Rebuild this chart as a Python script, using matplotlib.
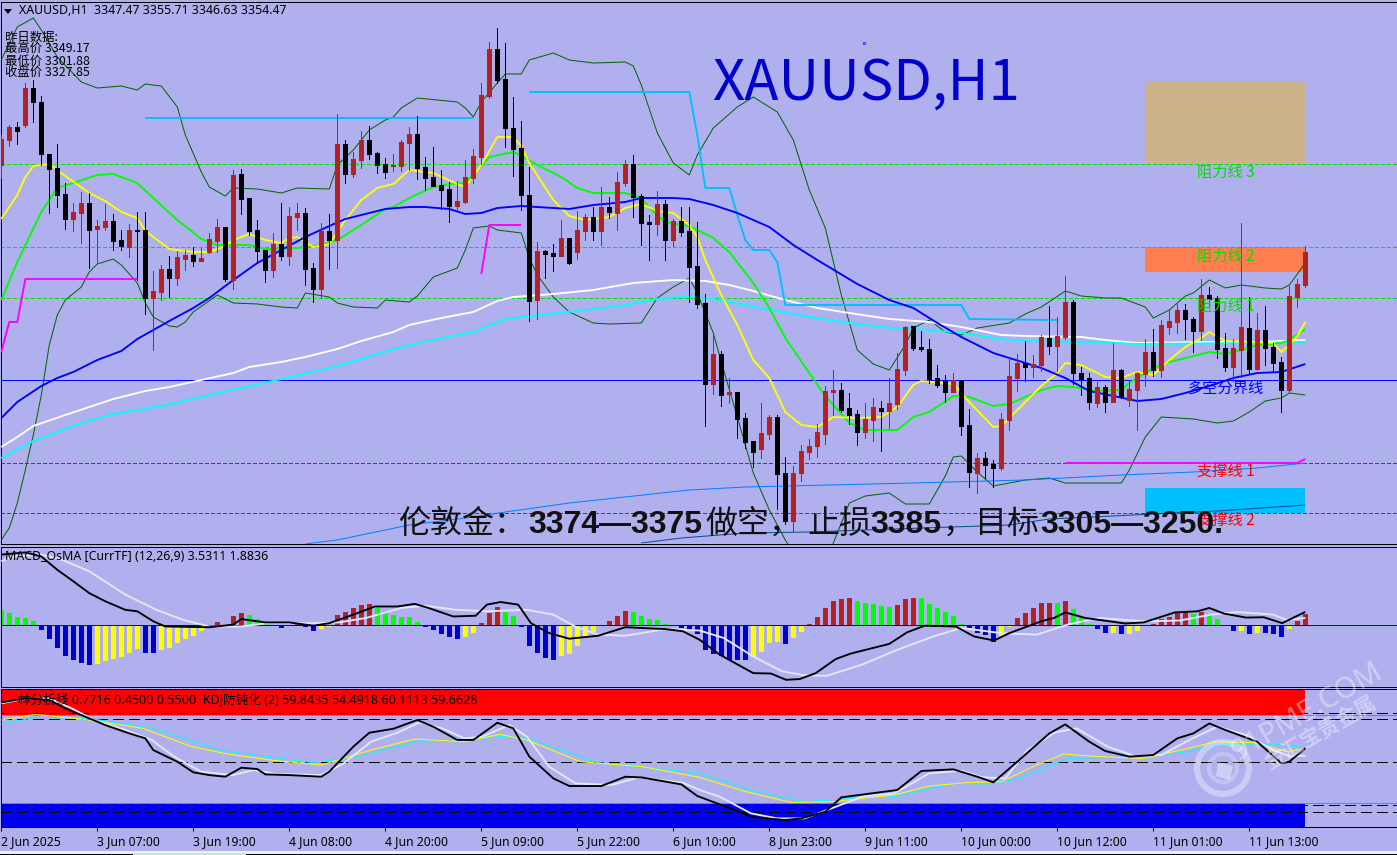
import matplotlib
matplotlib.use('Agg')
import matplotlib.pyplot as plt
from matplotlib.patches import Rectangle, Circle, Polygon

plt.rcParams['lines.scale_dashes'] = False
plt.rcParams['font.family'] = ['Noto Sans', 'Noto Sans CJK SC', 'DejaVu Sans']

highs = [3378.0,3380.0,3380.6,3388.4,3389.0,3385.8,3374.2,3376.2,3368.4,3364.4,
3366.6,3366.4,3361.0,3364.2,3362.2,3359.0,3360.2,3362.6,3362.6,3350.8,
3352.0,3353.8,3354.8,3355.0,3355.6,3355.4,3358.4,3361.2,3359.6,3371.0,
3371.2,3365.4,3361.0,3355.0,3358.4,3364.4,3363.6,3364.4,3363.4,3352.4,
3360.4,3362.2,3382.2,3377.0,3374.6,3378.8,3379.8,3374.6,3373.4,3374.2,
3377.0,3379.6,3381.8,3373.6,3375.6,3371.0,3368.6,3368.8,3373.0,3375.2,
3388.4,3396.6,3399.4,3396.4,3385.6,3380.8,3371.6,3356.6,3355.0,3356.2,
3361.0,3357.4,3362.8,3362.2,3363.6,3367.6,3365.6,3370.6,3373.0,3374.0,
3366.2,3362.0,3366.8,3365.0,3361.2,3363.6,3363.6,3360.6,3346.2,3338.6,
3334.8,3329.4,3326.6,3322.4,3316.8,3324.4,3322.0,3322.0,3313.6,3311.8,
3316.0,3317.2,3320.2,3327.8,3331.0,3328.4,3326.4,3323.0,3324.4,3325.4,
3324.8,3329.4,3334.4,3339.8,3339.8,3338.8,3337.2,3332.0,3330.0,3330.4,
3329.0,3323.2,3314.4,3314.6,3313.0,3322.4,3333.4,3334.2,3336.8,3334.0,
3338.0,3343.8,3341.6,3349.8,3345.0,3331.6,3330.4,3328.6,3328.0,3336.4,
3331.2,3329.0,3330.6,3337.2,3339.2,3341.0,3343.0,3344.2,3344.2,3341.6,
3349.2,3347.6,3345.8,3338.4,3337.2,3360.4,3345.6,3342.4,3343.8,3336.4,
3333.6,3347.8,3349.2,3355.8]

lows = [3369.4,3375.8,3376.2,3379.6,3380.6,3372.0,3362.4,3363.6,3359.2,3358.8,
3356.4,3351.4,3352.6,3359.0,3355.0,3355.0,3353.6,3349.0,3342.2,3335.0,
3345.0,3345.6,3348.0,3351.0,3351.8,3352.8,3354.4,3354.6,3348.8,3347.2,
3362.2,3358.0,3352.4,3348.6,3349.6,3353.0,3352.0,3359.0,3348.0,3344.6,
3345.6,3351.2,3351.4,3368.4,3369.6,3371.4,3373.2,3370.4,3369.4,3370.8,
3370.8,3371.0,3369.2,3367.0,3367.8,3363.2,3360.6,3363.0,3364.4,3368.4,
3372.2,3385.4,3388.4,3375.6,3369.8,3363.0,3340.8,3341.2,3349.4,3350.8,
3353.8,3352.2,3353.2,3357.0,3357.0,3356.0,3361.4,3359.0,3367.8,3361.6,
3356.0,3353.0,3358.0,3353.0,3355.8,3357.8,3344.6,3343.4,3319.8,3326.2,
3323.8,3324.4,3317.4,3315.4,3311.6,3313.4,3317.2,3303.2,3300.2,3298.8,
3308.8,3313.2,3313.6,3316.2,3322.0,3322.6,3320.2,3316.0,3317.4,3316.8,
3314.8,3319.4,3323.2,3330.0,3335.0,3334.8,3328.4,3327.6,3324.6,3326.6,
3318.0,3307.6,3306.4,3309.4,3307.6,3311.0,3319.0,3326.8,3328.8,3329.6,
3330.8,3334.2,3330.8,3337.2,3328.2,3326.0,3323.2,3323.6,3322.6,3324.6,
3325.4,3323.8,3319.0,3327.8,3329.8,3329.6,3338.2,3338.4,3337.2,3334.6,
3337.0,3343.6,3333.4,3330.8,3328.8,3329.6,3330.4,3331.0,3332.0,3330.6,
3322.6,3326.6,3343.6,3347.6]

opens = [3372.0,3377.0,3379.6,3380.0,3387.4,3384.6,3374.2,3371.4,3366.2,3361.2,
3362.4,3364.4,3359.2,3359.6,3360.8,3357.0,3355.6,3359.0,3359.0,3345.4,
3346.6,3351.2,3349.4,3353.2,3354.0,3352.8,3354.6,3356.8,3359.6,3349.0,
3370.2,3365.4,3359.0,3355.0,3351.0,3356.2,3353.8,3361.6,3362.4,3351.4,
3347.2,3358.8,3357.0,3376.2,3370.2,3373.0,3377.0,3374.4,3372.2,3371.8,
3371.8,3376.4,3378.2,3371.6,3369.6,3368.0,3367.2,3363.8,3364.6,3369.4,
3373.6,3385.8,3395.2,3389.2,3379.4,3375.4,3366.0,3345.0,3354.8,3354.4,
3353.8,3357.4,3354.6,3358.8,3361.6,3358.8,3363.6,3362.4,3368.4,3372.2,
3365.8,3360.6,3360.2,3364.2,3357.0,3360.8,3358.8,3351.8,3344.4,3328.2,
3334.2,3326.2,3326.6,3321.4,3316.8,3315.2,3318.2,3321.6,3310.4,3300.8,
3310.4,3314.6,3315.8,3318.2,3326.6,3327.0,3323.4,3322.2,3318.6,3321.0,
3323.4,3322.8,3324.2,3331.0,3339.8,3335.6,3335.2,3329.4,3328.8,3326.6,
3329.0,3320.0,3310.4,3313.4,3312.2,3311.4,3321.0,3329.4,3332.4,3331.6,
3332.0,3337.4,3335.8,3337.6,3344.6,3330.4,3329.4,3324.4,3327.6,3324.6,
3331.0,3325.0,3327.0,3330.2,3334.6,3331.0,3339.6,3340.6,3343.0,3341.2,
3338.8,3346.0,3345.4,3335.4,3331.6,3335.0,3339.4,3331.2,3339.0,3335.6,
3332.6,3327.0,3345.6,3348.0]

closes = [3377.2,3379.6,3378.8,3387.4,3384.6,3374.2,3371.2,3366.0,3361.2,3362.6,
3364.4,3359.0,3359.8,3360.8,3356.8,3355.8,3359.0,3358.8,3345.4,3346.8,
3351.2,3349.4,3353.6,3354.0,3352.8,3353.4,3357.2,3359.6,3349.2,3370.0,
3365.2,3358.8,3354.8,3351.0,3356.2,3353.8,3361.8,3362.4,3351.2,3347.2,
3358.8,3357.0,3376.2,3370.2,3373.2,3377.0,3374.2,3372.0,3370.6,3372.0,
3376.6,3378.2,3371.4,3369.4,3367.8,3367.0,3363.8,3364.8,3369.6,3373.8,
3386.0,3395.2,3389.0,3379.4,3375.2,3366.0,3344.8,3354.8,3354.2,3353.8,
3357.4,3352.4,3359.0,3361.6,3358.8,3363.6,3362.6,3368.6,3372.2,3365.6,
3360.4,3360.2,3364.2,3357.0,3360.8,3358.6,3351.6,3344.2,3328.2,3334.2,
3326.0,3326.6,3321.2,3316.6,3314.6,3318.4,3321.6,3310.2,3300.8,3310.4,
3314.8,3315.8,3318.6,3326.8,3327.0,3323.0,3322.0,3318.6,3321.2,3323.6,
3322.8,3324.4,3331.2,3339.6,3335.4,3335.2,3329.2,3328.0,3326.6,3329.0,
3319.8,3310.6,3313.4,3312.0,3311.4,3321.2,3329.8,3332.4,3331.6,3332.2,
3337.6,3335.8,3337.8,3344.6,3330.4,3329.2,3324.6,3327.6,3324.6,3331.0,
3325.8,3327.2,3330.4,3334.6,3331.0,3340.0,3340.8,3343.0,3341.2,3338.8,
3346.0,3345.2,3335.2,3331.6,3335.4,3339.6,3331.2,3339.0,3335.4,3332.4,
3327.0,3345.8,3348.2,3354.6]

yellow_ma = [(0,3361.2),(2,3366.0),(3,3369.6),(4,3371.8),(6,3372.2),(8,3369.8),(11,3366.4),(13,3364.8),(15,3362.6),(17,3361.4),(18,3358.8),(21,3355.2),(24,3354.6),(26,3354.6),(28,3355.8),(29,3357.0),(31,3358.2),(33,3357.0),(35,3356.4),(36,3357.4),(37,3357.6),(39,3355.6),(41,3356.2),(43,3361.0),(45,3365.0),(47,3367.4),(49,3368.2),(51,3371.0),(54,3370.4),(57,3368.2),(58,3367.6),(60,3372.0),(62,3377.6),(64,3377.6),(65,3375.8),(66,3372.4),(69,3365.0),(71,3361.8),(73,3361.0),(76,3361.6),(78,3363.4),(80,3364.2),(82,3362.8),(84,3362.4),(86,3360.0),(87,3357.6),(88,3353.0),(90,3346.0),(92,3340.0),(94,3333.0),(96,3329.4),(98,3322.6),(100,3320.0),(102,3319.6),(104,3321.6),(107,3321.4),(110,3321.6),(112,3323.6),(114,3328.0),(115,3328.8),(119,3328.2),(121,3324.6),(124,3319.6),(125,3319.8),(127,3323.0),(130,3327.8),(132,3330.4),(133,3332.4),(135,3332.0),(138,3329.6),(140,3329.4),(142,3330.6),(144,3330.0),(146,3333.0),(148,3335.6),(150,3337.4),(151,3338.6),(153,3336.8),(157,3336.6),(159,3336.4),(160,3334.6),(161,3336.0),(162,3337.8),(163,3340.6)]
lime_ma = [(0,3345.0),(2,3352.6),(5,3362.6),(7,3367.4),(9,3368.4),(12,3370.0),(14,3370.2),(17,3368.4),(19,3365.4),(22,3361.0),(25,3357.2),(27,3356.0),(31,3356.0),(33,3355.2),(37,3355.4),(40,3356.0),(42,3357.0),(45,3360.0),(48,3363.2),(49,3363.6),(51,3365.4),(54,3367.6),(56,3368.2),(58,3368.4),(60,3371.8),(61,3373.6),(64,3374.6),(65,3373.8),(67,3372.0),(70,3369.6),(72,3367.4),(74,3366.4),(78,3366.4),(80,3365.4),(81,3363.4),(83,3360.6),(85,3360.0),(86,3359.8),(89,3357.4),(91,3354.6),(94,3348.4),(96,3343.4),(98,3337.4),(101,3330.4),(103,3325.8),(106,3320.4),(108,3319.0),(112,3319.0),(114,3321.6),(116,3322.6),(119,3325.8),(121,3325.6),(124,3323.8),(126,3324.2),(128,3325.6),(130,3327.0),(132,3327.8),(134,3327.6),(137,3326.8),(140,3327.0),(141,3328.4),(144,3331.4),(146,3332.6),(149,3333.8),(151,3334.6),(153,3334.2),(155,3335.0),(157,3336.0),(160,3336.4),(161,3337.0),(163,3339.2)]
blue_ma = [(0,3321.4),(2,3324.6),(5,3327.8),(7,3329.4),(9,3330.6),(12,3333.0),(15,3334.8),(17,3337.2),(21,3340.8),(24,3343.4),(26,3345.4),(29,3349.0),(32,3352.4),(38,3357.6),(41,3359.8),(43,3361.2),(45,3362.0),(48,3363.2),(51,3363.6),(53,3363.6),(56,3363.2),(58,3362.2),(60,3362.4),(62,3363.4),(65,3363.8),(67,3363.6),(71,3363.2),(74,3364.0),(78,3364.6),(80,3365.4),(84,3365.4),(86,3365.2),(89,3364.0),(92,3362.4),(96,3359.6),(99,3356.0),(102,3353.0),(107,3348.2),(111,3345.0),(114,3343.4),(117,3340.4),(120,3337.6),(124,3334.4),(128,3332.4),(130,3331.4),(133,3329.4),(136,3326.8),(139,3325.8),(142,3324.8),(145,3325.2),(148,3326.4),(151,3327.8),(154,3329.4),(157,3330.4),(160,3330.6),(163,3332.2)]
white_ma = [(0,3315.6),(2,3317.6),(4,3319.8),(8,3322.0),(11,3323.6),(14,3325.2),(18,3326.8),(21,3327.6),(25,3329.0),(29,3330.4),(31,3331.6),(35,3332.6),(38,3333.6),(42,3335.2),(45,3336.8),(49,3338.6),(51,3340.0),(55,3341.4),(59,3342.6),(62,3344.8),(64,3345.6),(69,3346.2),(74,3347.0),(79,3348.4),(84,3349.0),(88,3348.8),(91,3348.0),(94,3346.8),(98,3345.0),(102,3343.4),(106,3342.4),(111,3341.2),(116,3340.6),(120,3339.6),(125,3338.0),(128,3337.8),(135,3337.6),(138,3337.0),(142,3336.4),(151,3336.6),(157,3336.6),(163,3337.0)]
cyan_ma = [(0,3313.4),(4,3316.8),(10,3320.4),(14,3322.2),(20,3323.8),(26,3326.0),(31,3327.8),(35,3329.2),(42,3331.8),(46,3333.8),(51,3336.0),(55,3337.4),(59,3338.6),(63,3341.2),(66,3341.8),(72,3342.8),(78,3344.0),(82,3345.2),(86,3345.8),(89,3345.2),(93,3344.0),(97,3342.8),(101,3341.6),(106,3340.4),(111,3339.4),(116,3339.0),(120,3338.4),(125,3337.2),(128,3336.8),(136,3336.6),(142,3336.2),(157,3336.4),(163,3336.6)]
band_upper = [(0,3393.0),(1,3396.4),(2,3399.6),(4,3401.4),(5,3399.0),(7,3393.6),(10,3388.6),(12,3387.4),(15,3387.8),(17,3387.0),(18,3388.2),(20,3387.8),(22,3383.6),(23,3378.0),(25,3370.6),(26,3367.6),(28,3365.8),(29,3367.4),(32,3367.2),(35,3366.4),(37,3367.4),(41,3367.2),(42,3372.0),(44,3375.0),(46,3379.0),(48,3381.0),(49,3381.6),(50,3383.4),(52,3385.4),(57,3384.6),(58,3383.4),(59,3381.6),(60,3384.6),(62,3388.4),(63,3390.2),(65,3390.2),(66,3393.0),(69,3394.4),(71,3393.0),(74,3392.4),(78,3392.6),(79,3391.8),(80,3388.0),(82,3378.4),(84,3372.4),(86,3370.0),(87,3374.0),(89,3379.4),(92,3383.6),(94,3385.6),(97,3382.6),(99,3377.0),(101,3367.0),(103,3359.4),(105,3346.0),(107,3335.0),(109,3332.2),(111,3331.0),(113,3336.0),(114,3339.4),(116,3341.0),(118,3338.6),(120,3338.0),(122,3339.4),(126,3340.4),(128,3342.2),(130,3343.6),(133,3346.8),(135,3345.8),(138,3345.4),(140,3345.4),(143,3343.6),(144,3341.4),(146,3343.0),(148,3345.8),(149,3346.4),(151,3349.0),(153,3347.4),(155,3348.0),(158,3347.4),(160,3347.2),(161,3348.0),(163,3352.4)]
band_lower = [(0,3297.0),(1,3299.4),(2,3304.4),(3,3311.0),(4,3318.0),(5,3326.0),(6,3336.0),(7,3342.0),(8,3345.0),(10,3347.6),(11,3350.6),(12,3352.2),(14,3353.2),(15,3352.0),(17,3348.4),(18,3344.4),(19,3341.6),(21,3339.8),(22,3339.6),(23,3340.6),(24,3342.6),(27,3346.0),(29,3344.4),(32,3344.2),(35,3343.6),(37,3343.4),(38,3346.4),(41,3345.6),(42,3344.4),(44,3343.6),(47,3343.4),(48,3345.0),(51,3344.6),(52,3345.8),(54,3349.6),(57,3351.4),(58,3355.0),(59,3359.4),(61,3359.8),(62,3359.0),(65,3358.4),(66,3353.4),(67,3350.0),(69,3345.6),(71,3342.6),(74,3340.4),(76,3340.2),(80,3340.4),(82,3345.4),(84,3347.6),(86,3349.4),(87,3346.4),(89,3338.4),(90,3332.6),(92,3321.6),(94,3310.4),(96,3303.0),(98,3297.0),(100,3292.0),(102,3290.0),(103,3293.0),(104,3296.4),(106,3304.4),(108,3305.8),(111,3306.4),(113,3304.2),(116,3304.2),(118,3309.8),(119,3313.6),(120,3313.8),(122,3310.6),(124,3307.8),(128,3309.0),(131,3309.4),(133,3308.4),(136,3308.4),(140,3308.4),(141,3311.0),(143,3317.6),(145,3321.6),(147,3321.4),(149,3321.2),(152,3320.4),(154,3320.8),(156,3322.6),(158,3324.8),(160,3325.4),(161,3326.4),(163,3326.0)]
sky_step_a = [(18,3381.4),(59,3381.4)]
sky_step_b = [(66,3386.6),(86,3386.6),(87,3378.0),(88,3367.4),(91,3367.4),(92,3362.0),(93,3357.0),(94,3355.0),(96,3355.0),(97,3352.6),(98,3344.0),(120,3344.0),(121,3341.2),(132,3341.0)]
magenta_a = [(0,3334.6),(1,3340.6),(2,3340.6),(3,3349.2),(17,3349.2)]
magenta_b = [(60,3350.2),(61,3360.0),(65,3360.0)]
magenta_c = [(133,3312.4),(162,3312.4),(163,3313.2)]
long_ma = [(38,3296.2),(42,3297.0),(51,3300.0),(59,3301.6),(63,3302.6),(71,3304.4),(86,3307.0),(93,3307.6),(114,3308.4),(128,3309.0),(140,3310.0),(149,3310.6),(157,3311.4),(163,3312.4)]
longer_ma = [(80,3296.4),(85,3297.4),(93,3298.4),(101,3298.6),(126,3300.0),(131,3301.2),(152,3302.8),(163,3304.0)]

resistance_levels = [3372.2, 3355.6, 3345.4]
support_levels = [3312.4, 3302.4]
pivot_level = 3329.0
zones = [(3372.4,3388.6,'#CDB38B'),(3350.6,3355.6,'#FF7F50'),(3302.4,3307.4,'#00BFFF')]
level_labels = [('阻力线 3',3370.6,'#00E000'),('阻力线 2',3353.8,'#00E000'),('阻力线 1',3343.8,'#00E000'),
                ('多空分界线',3327.4,'#0000FF'),('支撑线 1',3310.8,'#FF0000'),('支撑线 2',3301.0,'#FF0000')]

osma = [4.1,3.2,2.2,2.0,1.2,-1.3,-3.7,-6.1,-8.3,-9.5,-10.2,-10.7,-10.4,-9.6,-9.2,-8.6,-7.6,-6.5,-7.5,-7.5,
-6.7,-6.2,-4.8,-3.7,-2.9,-1.7,0,0.9,0,2.5,3.3,2.7,1.6,0.5,-0.2,-0.9,0,0.5,-0.5,-1.7,
-1.0,-0.5,2.7,3.6,4.6,5.4,5.8,4.7,3.8,2.8,2.2,2.2,0.9,-0.5,-1.4,-2.3,-3.2,-3.7,-3.2,-2.1,
0.6,3.3,4.9,3.6,2.5,-0.5,-5.6,-7.5,-8.8,-9.4,-8.3,-7.7,-5.6,-3.2,-1.8,0,1.2,2.5,3.9,3.6,
2.5,1.7,1.4,0.4,-0.4,-0.7,-1.3,-2.3,-6.7,-7.7,-8.5,-9.4,-9.4,-9.4,-8.6,-7.2,-4.9,-4.7,-5.0,-3.6,
-1.8,0.4,2.2,4.7,6.6,7.1,7.4,6.6,6.0,5.8,5.2,4.9,5.5,7.1,7.4,7.4,5.8,4.7,3.6,2.5,
0.4,-0.8,-2.2,-2.6,-4.7,-3.1,-0.5,2.0,3.2,4.7,6.0,6.0,6.0,6.6,4.4,2.2,0.4,-1.0,-2.1,-2.1,
-2.3,-2.3,-1.5,-0.4,0.4,1.6,2.2,3.6,3.6,3.1,3.6,3.1,1.6,-0.4,-1.5,-1.5,-2.3,-2.1,-2.1,-2.3,
-3.2,-1.0,1.2,3.1]
osma_state = ('g'*5+'b'*7+'y'*6+'b'*2+'y'*7+'r'*4+'g'*3+'b'*2+'y'+'r'+'b'*2+'y'*2+'r'*5+'g'*6+'b'*5+'y'*2
              +'r'*3+'g'*2+'b'*5+'y'*6+'r'*3+'g'*5+'b'*10+'y'*4+'b'+'y'*2+'r'*6+'g'*5+'r'*3+'g'*6+'b'*4+'y'*2
              +'r'*5+'g'+'r'+'g'*3+'b'*2+'y'+'b'+'y'*3+'r'*5+'g'+'r'+'g'*2+'b'*2+'y'+'b'+'y'+'b'*3+'y'+'r'*2)
macd_line = [(0,19.0),(3,19.6),(5,18.5),(7,14.9),(9,11.8),(11,8.6),(13,6.4),(15.5,4.1),(17,3.7),(19,1.0),(20.5,-0.4),(26,-0.6),(29,0.1),(30,1.6),(33,0.7),(36,0.7),(39,-0.2),(41,0.5),(44,2.8),(46.7,5.0),(49.5,5.0),(51.7,5.7),(53.4,4.6),(56.5,2.3),(59.3,2.5),(60.7,5.5),(62.4,6.2),(64.6,5.5),(66.2,0.5),(68.5,-2.2),(71,-3.7),(74.6,-2.9),(78,-0.6),(83,-1.1),(85.2,-1.7),(87.3,-4.0),(89.8,-8.0),(94,-13.0),(96.2,-13.1),(98.1,-14.8),(99.8,-14.6),(101.8,-13.0),(104.3,-9.2),(106.2,-7.7),(111,-5.1),(113.2,-2.0),(115.4,-0.2),(119.3,-0.4),(121.6,-3.1),(124.1,-4.2),(126,-2.2),(130,1.0),(131.6,1.9),(133,3.4),(135.5,1.9),(140.5,0.4),(142.8,0.7),(146.7,3.4),(149.5,3.7),(151,4.6),(152.8,3.1),(155.6,2.0),(157.8,2.1),(160.1,0.5),(163,3.5311)]
signal_line = [(0,17.2),(1.5,18.5),(5,19.0),(7.6,17.6),(11,14.5),(15.5,8.2),(19.4,4.1),(22.7,1.4),(26,-0.4),(30,-0.4),(33.3,0.5),(39,0.5),(42.2,0.7),(45.6,1.9),(50,4.6),(53,5.2),(56.8,4.1),(60.7,3.7),(65.7,4.1),(69,2.8),(71.8,-0.5),(74.6,-2.6),(78,-2.9),(83,-1.1),(87.3,-1.5),(90.3,-3.5),(94,-8.5),(97.6,-12.5),(100.4,-13.6),(103.2,-13.7),(107.6,-10.7),(112,-6.7),(116.5,-3.1),(120,-0.8),(125,-2.2),(129.4,-2.6),(133.3,0.1),(137.2,1.9),(142.8,1.0),(147.3,1.2),(151.2,2.8),(154.5,3.5),(159,2.8),(160.6,1.4),(163,1.8836)]

kd_black = [(0,93.4),(3,96.3),(6,95.1),(8,89.0),(10,84.1),(12,79.3),(13,76.8),(16,70.7),(18,67.1),(19,58.5),(22,50.0),(24,42.2),(26,40.2),(28,39.0),(30,45.6),(32,44.6),(33,40.7),(36,40.2),(40,39.0),(41,42.7),(44,61.0),(46,71.2),(49,74.1),(52,80.5),(54,75.6),(57,65.9),(59,65.9),(62,78.5),(64,74.4),(66,53.7),(69,37.8),(71,32.2),(75,32.2),(78,39.0),(80,38.5),(85,33.4),(87,24.9),(90,18.3),(94,9.3),(98,7.3),(100,8.5),(103,13.4),(105,23.9),(112,29.3),(115,43.2),(119,44.4),(122,39.0),(124,34.9),(127,50.0),(131,70.7),(133,77.3),(136,64.6),(138,57.8),(141,53.7),(144,54.9),(147,67.1),(149,70.7),(151,78.0),(153,73.2),(157,64.6),(160,48.8),(161,50.0),(163,59.8435)]
kd_white = [(0,92.7),(2.6,95.6),(6,96.3),(8.8,89.0),(11.6,80.5),(15.5,73.2),(18.8,65.9),(21.6,53.7),(25,42.7),(28.9,40.2),(31.6,43.9),(34.4,41.0),(40,40.2),(42.8,48.8),(46.2,64.6),(49.5,71.2),(52.3,78.8),(55.1,74.4),(57.9,67.1),(60.1,68.3),(63.5,76.8),(65.7,68.3),(68.5,46.3),(71.8,34.1),(76.3,32.9),(79.6,38.5),(85.2,34.6),(87.3,29.3),(89.8,24.4),(93.7,12.2),(97,8.5),(100.4,8.5),(104.9,18.3),(107.6,24.4),(111.6,26.8),(116,41.5),(120,43.4),(122.7,38.5),(125.5,37.8),(128.3,58.5),(131.6,71.2),(134.4,74.4),(138.3,61.0),(141.7,54.1),(145,54.9),(148.9,67.1),(152,75.6),(155.6,69.5),(159,58.5),(161.2,53.7),(163,54.4918)]
kd_yellow = [(0,80.5),(4.3,84.6),(11,80.5),(17.7,74.4),(23.8,61.0),(28.3,55.6),(34.4,50.7),(40,47.6),(46.2,58.5),(51.7,66.6),(57.9,64.6),(62.3,70.0),(65.7,65.9),(72.4,50.0),(80.2,46.3),(87.3,38.5),(92.6,28.8),(98.7,20.2),(103.7,20.7),(111.6,25.6),(116,32.2),(120.5,34.6),(125,35.4),(129.4,47.6),(132.8,55.6),(137.2,53.7),(142.8,52.4),(148.4,59.8),(151.7,64.6),(156.8,63.9),(160.7,57.3),(163,59.6628)]
kd_cyan = [(0,77.6),(4.3,82.4),(11,81.7),(18.8,74.4),(27.7,58.0),(38.9,49.3),(44.5,53.7),(52.9,65.9),(58.4,65.9),(62.9,68.8),(65.7,67.1),(74.6,49.3),(87.3,41.5),(94.3,28.0),(100.4,20.7),(106.5,23.2),(111.6,24.4),(118.8,34.1),(123.8,33.7),(127.2,37.8),(133.3,52.4),(142.8,53.7),(148.4,57.3),(152.8,62.9),(159,62.9),(163,60.1113)]
kd_dash_levels = [86, 81, 49.5, 18, 13]
kd_lime_levels = [84, 20]

tick_bars = list(range(0, 164, 12))
tick_labels = ['2 Jun 2025','3 Jun 07:00','3 Jun 19:00','4 Jun 08:00','4 Jun 20:00','5 Jun 09:00','5 Jun 22:00',
               '6 Jun 10:00','8 Jun 23:00','9 Jun 11:00','10 Jun 00:00','10 Jun 12:00','11 Jun 01:00','11 Jun 13:00']

W, H = 1397, 855
BG = '#B0B0EE'
BROWN = '#B22222'
PX = 0.72
THIN = 0.72
THICK = 1.35
fig = plt.figure(figsize=(W/100, H/100), dpi=100, facecolor=BG)

def panel(top, bottom, ylim):
    ax = fig.add_axes([1/W, 1-bottom/H, (W-1)/W, (bottom-top)/H], facecolor=BG)
    ax.set_xlim(-0.0375, 174.46)
    ax.set_ylim(*ylim)
    ax.set_xticks([]); ax.set_yticks([])
    for s in ax.spines.values():
        s.set_linewidth(PX); s.set_color('#000000')
    ax.spines['right'].set_visible(False)
    return ax

def trace(ax, pts, color, w=THICK, z=3):
    ax.plot([p[0] for p in pts], [p[1] for p in pts], color=color, lw=w, zorder=z,
            solid_joinstyle='round', solid_capstyle='butt')

ax1 = panel(2, 544, (3296.2, 3404.6))
ax2 = panel(547, 687, (-16.74, 21.06))
ax3 = panel(689, 827, (2.2, 103.2))

# ---- main panel
for lo, hi, c in zones:
    ax1.add_patch(Rectangle((143, lo), 20, hi-lo, facecolor=c, edgecolor='none', zorder=1, antialiased=False))
for lv in resistance_levels:
    ax1.axhline(lv, color='#00E000', lw=PX, dashes=(2.2, 1.5), zorder=2, antialiased=False)
for lv in support_levels:
    ax1.axhline(lv, color='#CC1111', lw=PX, dashes=(2.2, 1.5), zorder=2, antialiased=False)
ax1.axhline(pivot_level, color='#0000FF', lw=PX, zorder=2, antialiased=False)

for pts in (band_upper, band_lower):
    trace(ax1, pts, '#006400', THIN)
trace(ax1, long_ma, '#0080FF', THIN)
trace(ax1, longer_ma, '#0A4A90', THIN)
trace(ax1, white_ma, '#FFFFFF')
trace(ax1, cyan_ma, '#00FFFF')
trace(ax1, sky_step_a, '#00BFFF')
trace(ax1, sky_step_b, '#00BFFF')
for pts in (magenta_a, magenta_b, magenta_c):
    trace(ax1, pts, '#FF00FF')
trace(ax1, lime_ma, '#00FF00')
trace(ax1, yellow_ma, '#FFFF00')
trace(ax1, blue_ma, '#0000FF')

for i in range(len(closes)):
    c = BROWN if closes[i] >= opens[i] else '#000000'
    ax1.vlines(i, lows[i], highs[i], color=c, lw=PX, zorder=4, antialiased=False)
    lo, hi = min(opens[i], closes[i]), max(opens[i], closes[i])
    ax1.bar(i, hi-lo, bottom=lo, width=0.5, color=c, edgecolor=c, linewidth=PX, zorder=5, antialiased=False)

for txt, y, c in level_labels:
    ax1.text(153.1, y, txt, color=c, fontsize=11, ha='center', va='center', zorder=6,
             family=['Noto Sans CJK SC', 'DejaVu Sans'])

# ---- MACD panel
osma_colors = {'g': '#00FF00', 'b': '#0000CD', 'y': '#FFFF00', 'r': BROWN}
for i, v in enumerate(osma):
    ax2.bar(i, v, width=0.625, color=osma_colors[osma_state[i]], zorder=2, antialiased=False)
ax2.axhline(0, color='#0000CD', lw=PX, zorder=3, antialiased=False)
trace(ax2, signal_line, '#E6E6FA', THICK, 4)
trace(ax2, macd_line, '#000000', THICK, 5)

# ---- KD panel
ax3.add_patch(Rectangle((-0.0375, 84), 163.04, 19.2, facecolor='#FF0000', edgecolor='none', zorder=1, antialiased=False))
ax3.add_patch(Rectangle((-0.0375, 2.2), 163.04, 17.8, facecolor='#0000EE', edgecolor='none', zorder=1, antialiased=False))
for lv in kd_lime_levels:
    ax3.axhline(lv, color='#00E000', lw=PX, zorder=2, antialiased=False)
for lv in kd_dash_levels:
    ax3.axhline(lv, color='#000000', lw=PX, dashes=(7.2, 3.6), zorder=2, antialiased=False)
trace(ax3, kd_cyan, '#00FFFF', THIN, 3)
trace(ax3, kd_yellow, '#FFFF00', THIN, 3)
trace(ax3, kd_white, '#E6E6FA', THICK, 4)
trace(ax3, kd_black, '#000000', THICK, 5)

ax3.set_xticks(tick_bars)
ax3.set_xticklabels(tick_labels, ha='left', fontsize=8.8, color='#000000')
ax3.tick_params(axis='x', length=3, width=PX, color='#000000', pad=2.5)

# ---- overlay in figure pixels for annotations
ov = fig.add_axes([0, 0, 1, 1], facecolor='none', zorder=10)
ov.set_xlim(0, W); ov.set_ylim(H, 0); ov.axis('off')

CJK = ['Noto Sans CJK SC', 'DejaVu Sans']
ov.text(712, 100, 'XAUUSD,H1', color='#0000CD', fontsize=40.5, family=CJK, va='baseline')
ov.plot([864], [43], marker='o', ms=1.5, mfc='none', mec='#0000CD', mew=0.5)

ov.add_patch(Polygon([(4, 9), (12, 9), (8, 14)], closed=True, fc='#000000', ec='none'))
ov.text(19, 11, 'XAUUSD,H1  3347.47 3355.71 3346.63 3354.47', fontsize=8.9, va='center', color='#000000')
for y, t in [(37, '昨日数据:'), (48, '最高价 3349.17'), (61, '最低价 3301.88'), (72, '收盘价 3327.85')]:
    ov.text(5, y, t, fontsize=8.9, va='center', color='#000000', family=CJK)
ov.text(5, 556, 'MACD_OsMA [CurrTF] (12,26,9) 3.5311 1.8836', fontsize=8.9, va='center', color='#000000')
ov.text(18, 700, '林分析线 0.7716 0.4500 0.5500  KDJ防钝化 (2) 59.8435 54.4918 60.1113 59.6628',
        fontsize=9.05, va='center', color='#000000', family=['Noto Sans', 'Noto Sans CJK SC'])

for x, t, bold in [(398, '伦敦金：', False), (528, '3374—3375', True), (705, '做空，', False), (807, '止损', False),
                   (870, '3385', True), (943, '，', False), (975, '目标', False), (1040, '3305—3250.', True)]:
    if bold:
        ov.text(x, 533, t, fontsize=23, fontweight='bold', family='Liberation Sans', color='#111111', va='baseline')
    else:
        ov.text(x, 533, t, fontsize=23, family=CJK, color='#111111', va='baseline')

# watermark
ov.add_patch(Circle((1223, 768), 26, fc='none', ec='#FFFFFF', lw=4.5, alpha=0.35))
ov.add_patch(Circle((1223, 768), 14, fc='none', ec='#FFFFFF', lw=3, alpha=0.25))
ov.add_patch(Polygon([(1218, 762), (1233, 766), (1230, 780), (1216, 776)], closed=True, fc='#FFFFFF', ec='none', alpha=0.4))
ov.text(1307, 712, '91PME.COM', fontsize=21, color='#FFFFFF', alpha=0.4, rotation=30, ha='center', va='center', rotation_mode='anchor')
ov.text(1320, 732, '金汇宝贵金属', fontsize=15, color='#FFFFFF', alpha=0.4, rotation=30, ha='center', va='center',
        rotation_mode='anchor', family=CJK, fontweight='bold')

# bottom tab strip
ov.add_patch(Rectangle((0, 851), W, 4, fc='#F0F0F0', ec='none', antialiased=False))
ov.plot([0, 132], [853.5, 853.5], color='#000000', lw=PX, antialiased=False)
ov.plot([246, W], [853.5, 853.5], color='#000000', lw=PX, antialiased=False)
ov.add_patch(Rectangle((132, 853), 114, 2, fc='#C8E8C8', ec='none', antialiased=False))

fig.savefig('out.png', dpi=100, facecolor=BG)
